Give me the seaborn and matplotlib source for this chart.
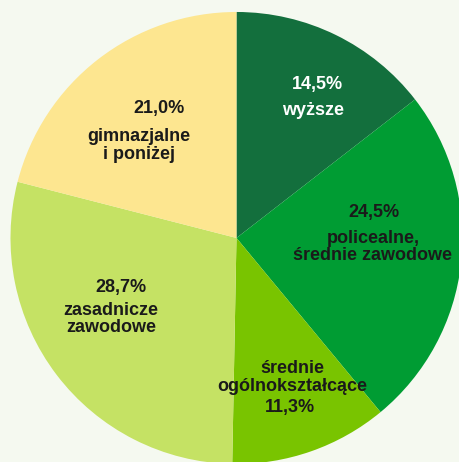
import seaborn as sns
import matplotlib.pyplot as plt

# education levels (share of people, %)
labels = ["wyższe", "policealne,\nśrednie zawodowe", "średnie\nogólnokształcące",
          "zasadnicze\nzawodowe", "gimnazjalne\ni poniżej"]
shares = [14.5, 24.5, 11.3, 28.7, 21.0]
colors = ["#136f3d", "#009c33", "#79c400", "#c5e264", "#fde690"]

sns.set_theme(style="white")
plt.rcParams["font.family"] = ["Liberation Sans", "DejaVu Sans"]

bg = "#f5f9f0"
fig = plt.figure(figsize=(4.6, 4.62), dpi=100, facecolor=bg)
ax = fig.add_axes([0.0228, -0.0043, 0.9826, 0.9784])
ax.set_facecolor(bg)

wedges, _ = ax.pie(shares, colors=sns.color_palette(colors), startangle=90,
                   counterclock=False, radius=1,
                   wedgeprops=dict(linewidth=0))
ax.set_xlim(-1, 1)
ax.set_ylim(-1, 1)
ax.set_aspect("equal")
ax.axis("off")

fmt = lambda v: f"{v:.1f}%".replace(".", ",")

# label layout: (percent position, name position, text colour)
layout = [
    ((0.356, 0.677), (0.339, 0.562), "white"),
    ((0.608, 0.111), (0.604, -0.040), "#1a1a1a"),
    ((0.237, -0.752), (0.246, -0.617), "#1a1a1a"),
    ((-0.511, -0.217), (-0.555, -0.358), "#1a1a1a"),
    ((-0.343, 0.575), (-0.431, 0.409), "#1a1a1a"),
]

for name, val, (pp, npos, col) in zip(labels, shares, layout):
    ax.text(pp[0], pp[1], fmt(val), ha="center", va="center",
            fontsize=13, fontweight="bold", color=col)
    ax.text(npos[0], npos[1], name, ha="center", va="center",
            fontsize=13, fontweight="bold", color=col, linespacing=1.05)

fig.savefig("out.png", dpi=100, facecolor=bg)
